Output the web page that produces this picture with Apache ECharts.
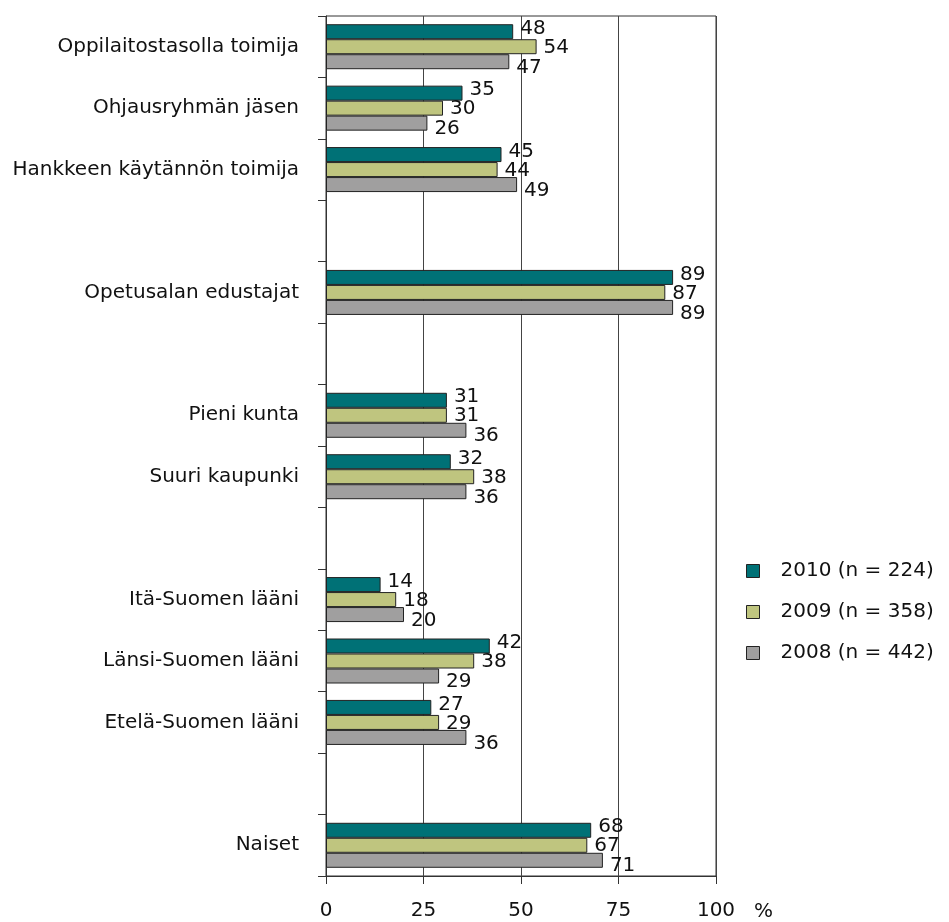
<!DOCTYPE html>
<html>
<head>
<meta charset="utf-8">
<script src="https://cdn.jsdelivr.net/npm/echarts@6/dist/echarts.min.js"></script>
<style>
  html, body { margin: 0; padding: 0; background: #ffffff; }
  #chart { width: 949px; height: 922px; }
</style>
</head>
<body>
<div id="chart"></div>
<script>
// Row labels; empty strings are spacer rows between the groups.
const categories = [
  'Oppilaitostasolla toimija',
  'Ohjausryhmän jäsen',
  'Hankkeen käytännön toimija',
  '',
  'Opetusalan edustajat',
  '',
  'Pieni kunta',
  'Suuri kaupunki',
  '',
  'Itä-Suomen lääni',
  'Länsi-Suomen lääni',
  'Etelä-Suomen lääni',
  '',
  'Naiset'
];

const seriesNames = ['2010 (n = 224)', '2009 (n = 358)', '2008 (n = 442)'];

// Percentages per row (null for spacer rows)
const values2010 = [48, 35, 45, null, 89, null, 31, 32, null, 14, 42, 27, null, 68];
const values2009 = [54, 30, 44, null, 87, null, 31, 38, null, 18, 38, 29, null, 67];
const values2008 = [47, 26, 49, null, 89, null, 36, 36, null, 20, 29, 36, null, 71];

const xTicks = { min: 0, max: 100, interval: 25 };

const FONT = '"DejaVu Sans", "Liberation Sans", Arial, sans-serif';
const colors = ['#007176', '#bfc57f', '#a09f9f'];
const labelOffsets = [[0, -3], [0, 1], [0, 6]];

function makeSeries(name, data, idx) {
  return {
    name: name,
    type: 'bar',
    data: data,
    barWidth: 15,
    barGap: '0%',
    itemStyle: { color: colors[idx], borderColor: '#222', borderWidth: 1 },
    label: {
      show: true,
      position: 'right',
      distance: 7,
      offset: labelOffsets[idx],
      color: '#111',
      fontFamily: FONT,
      fontSize: 20
    },
    emphasis: { disabled: true }
  };
}

const chart = echarts.init(document.getElementById('chart'), null, { renderer: 'canvas' });

chart.setOption({
  animation: false,
  backgroundColor: '#ffffff',
  textStyle: { fontFamily: FONT },
  grid: {
    left: 326, right: 233, top: 16, bottom: 45,
    containLabel: false,
    show: true,
    borderColor: '#333',
    borderWidth: 1,
    backgroundColor: 'transparent'
  },
  legend: {
    orient: 'vertical',
    left: 746,
    top: 561,
    padding: 0,
    itemWidth: 13,
    itemHeight: 13,
    itemGap: 21,
    icon: 'rect',
    itemStyle: { borderColor: '#222', borderWidth: 1 },
    textStyle: { fontFamily: FONT, fontSize: 20, color: '#111', padding: [0, 0, 0, 16] },
    data: seriesNames
  },
  xAxis: {
    type: 'value',
    min: xTicks.min,
    max: xTicks.max,
    interval: xTicks.interval,
    name: '%',
    nameLocation: 'end',
    nameGap: 38,
    nameTextStyle: {
      fontFamily: FONT, fontSize: 20, color: '#111',
      verticalAlign: 'top', lineHeight: 20, padding: [26, 0, 0, 0]
    },
    axisLine: { show: true, lineStyle: { color: '#333', width: 1 } },
    axisTick: { show: true, length: 8, lineStyle: { color: '#333' } },
    axisLabel: { fontFamily: FONT, fontSize: 20, color: '#111', margin: 25 },
    splitLine: { show: true, lineStyle: { color: '#444', width: 1 } }
  },
  yAxis: {
    type: 'category',
    data: categories,
    inverse: true,
    axisLine: { show: true, lineStyle: { color: '#333', width: 1 } },
    axisTick: { show: true, length: 8, alignWithLabel: false, lineStyle: { color: '#333' } },
    axisLabel: { fontFamily: FONT, fontSize: 20, color: '#111', margin: 27, interval: 0 },
    splitLine: { show: false }
  },
  series: [
    makeSeries(seriesNames[0], values2010, 0),
    makeSeries(seriesNames[1], values2009, 1),
    makeSeries(seriesNames[2], values2008, 2)
  ]
});
</script>
</body>
</html>
